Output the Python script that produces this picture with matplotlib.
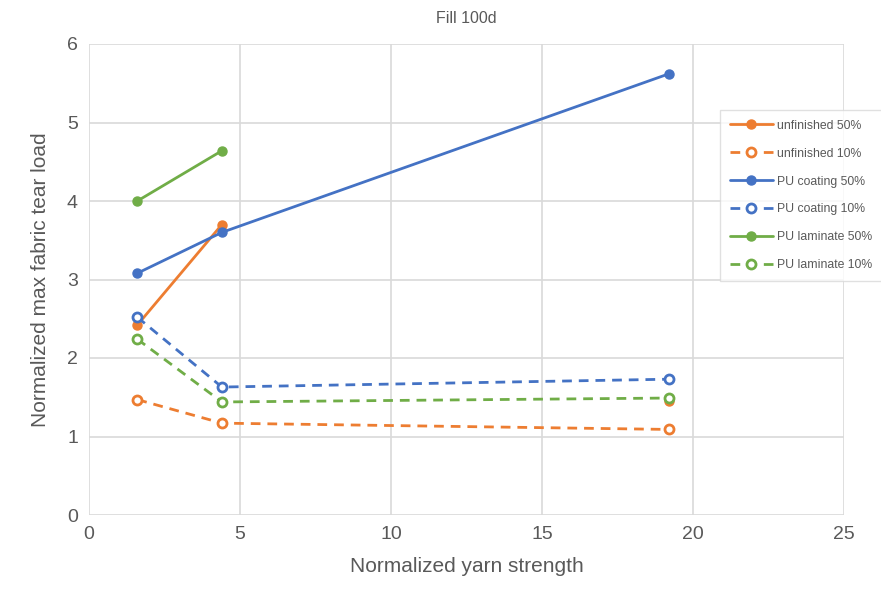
import numpy as np
import matplotlib
matplotlib.use("Agg")
import matplotlib.pyplot as plt

plt.rcParams['font.family'] = ['Liberation Sans', 'DejaVu Sans']

# Normalized yarn strength (x) for each finish
x_vals = [1.6, 4.4, 19.2]

unfinished_50 = [2.42, 3.70, np.nan, 1.45]
unfinished_50_x = [1.6, 4.4, 11.0, 19.2]
unfinished_10 = [1.47, 1.17, 1.09]
pu_coating_50 = [3.08, 3.60, 5.62]
pu_coating_10 = [2.52, 1.63, 1.73]
pu_laminate_50 = [4.00, 4.64]
pu_laminate_50_x = [1.6, 4.4]
pu_laminate_10 = [2.24, 1.44, 1.49]

orange = "#ED7D31"
blue = "#4472C4"
green = "#70AD47"
text_col = "#595959"
grid_col = "#D9D9D9"

fig = plt.figure(figsize=(8.81, 5.99), dpi=100)
ax = fig.add_axes([89/881, 1 - 515/599, (844-89)/881, (515-44)/599])

solid_kw = dict(lw=2.0, marker='o', ms=6.5, solid_capstyle='round')
dash_kw = dict(lw=2.0, marker='o', ms=6.5, dashes=(3.5, 2.5),
               markerfacecolor='white', markeredgewidth=2.0)

ax.plot(unfinished_50_x, unfinished_50, color=orange, label="unfinished 50%", **solid_kw)
ax.plot(x_vals, unfinished_10, color=orange, label="unfinished 10%", **dash_kw)
ax.plot(x_vals, pu_coating_50, color=blue, label="PU coating 50%", **solid_kw)
ax.plot(x_vals, pu_coating_10, color=blue, label="PU coating 10%", **dash_kw)
ax.plot(pu_laminate_50_x, pu_laminate_50, color=green, label="PU laminate 50%", **solid_kw)
ax.plot(x_vals, pu_laminate_10, color=green, label="PU laminate 10%", **dash_kw)

ax.set_xlim(0, 25)
ax.set_ylim(0, 6)
ax.set_xticks(range(0, 26, 5))
ax.set_yticks(range(0, 7))
ax.grid(True, color=grid_col, lw=1.2)
ax.set_axisbelow(True)
for s in ax.spines.values():
    s.set_visible(False)
ax.tick_params(length=0, labelsize=14, colors=text_col, pad=8)

ax.set_xlabel("Normalized yarn strength", fontsize=15, color=text_col, labelpad=10)
ax.set_ylabel("Normalized max fabric tear load", fontsize=15, color=text_col, labelpad=12)
ax.set_title("Fill 100d", fontsize=11.5, color=text_col, pad=15)

leg = fig.legend(loc='upper left', bbox_to_anchor=(720/881, 1 - 110/599),
                 fontsize=8.8, frameon=True, fancybox=False, edgecolor=grid_col,
                 handlelength=3.5, labelspacing=1.3, borderpad=0.8,
                 handletextpad=0.4, labelcolor=text_col, borderaxespad=0)
leg.get_frame().set_linewidth(1.0)

fig.savefig("out.png", dpi=100)
